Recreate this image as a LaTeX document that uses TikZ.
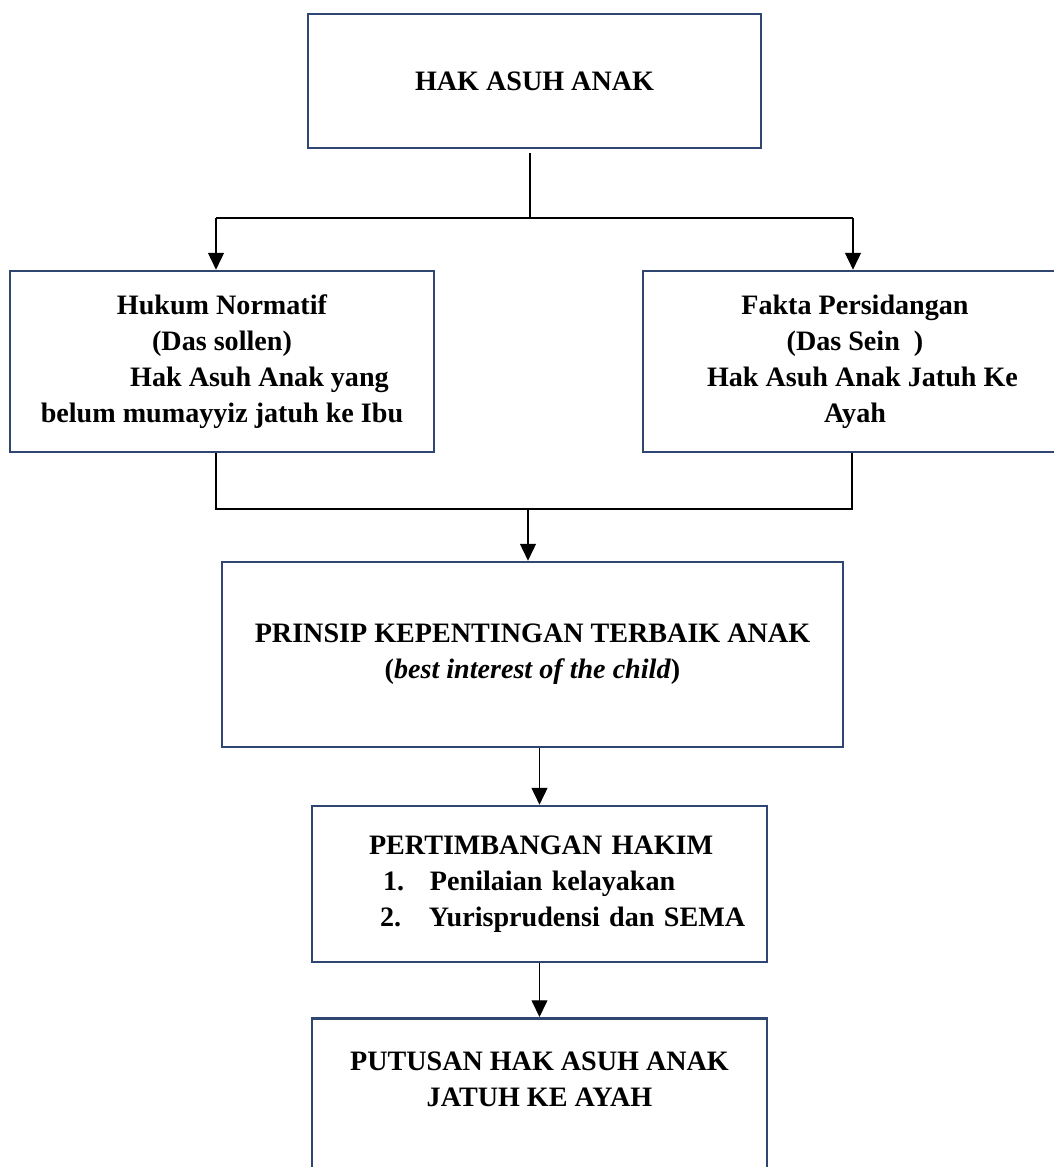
\documentclass[tikz,border=0pt]{standalone}
\usepackage{fontspec}
\setmainfont{Liberation Serif}
\usetikzlibrary{arrows.meta}
\definecolor{garisbiru}{RGB}{47,70,115}

\begin{document}
\begin{tikzpicture}[
  kotak/.style={draw=garisbiru, line width=1.5pt, align=center,
    font=\fontsize{16}{20.5}\selectfont\bfseries},
  garis/.style={line width=0.7pt},
  panah/.style={garis, -{Triangle[width=9pt,length=9.5pt]}}
]
  \useasboundingbox (0,0) rectangle (21.08,-23.34);
  \clip (0,0) rectangle (21.08,-23.34);

  \node[kotak, minimum width=9.06cm, minimum height=2.68cm] (hak) at (10.69,-1.62) {HAK ASUH ANAK};

  \node[kotak, minimum width=8.48cm, minimum height=3.62cm] (normatif) at (4.44,-7.23)
    {Hukum Normatif\\(Das sollen)\\\hspace*{1.5cm}Hak Asuh Anak yang\\belum mumayyiz jatuh ke Ibu};
  \node[kotak, minimum width=8.48cm, minimum height=3.62cm] (fakta) at (17.1,-7.23)
    {Fakta Persidangan\\(Das Sein\ \ )\\\hspace*{0.3cm}Hak Asuh Anak Jatuh Ke\\Ayah};

  \node[kotak, minimum width=12.42cm, minimum height=3.7cm] (prinsip) at (10.65,-13.09)
    {PRINSIP KEPENTINGAN TERBAIK ANAK\\(\textit{best interest of the child})};

  \node[kotak, align=left, text width=9.1cm, inner xsep=0pt, minimum height=3.12cm] (hakim) at (10.79,-17.68)
    {\hspace*{1.14cm}PERTIMBANGAN HAKIM\\
     \hspace*{1.42cm}\makebox[0.94cm][l]{1.}Penilaian kelayakan\\
     \hspace*{1.36cm}\makebox[0.98cm][l]{2.}Yurisprudensi dan SEMA};

  \node[kotak, anchor=north, inner ysep=0.67cm, minimum width=9.1cm] (putusan) at (10.79,-20.34)
    {\parbox[t][4cm][t]{8.5cm}{\centering PUTUSAN HAK ASUH ANAK\\JATUH KE AYAH}};

  \coordinate (a1) at (10.6,-4.36);
  \coordinate (a2) at (4.32,-4.36);
  \coordinate (a3) at (17.06,-4.36);
  \draw[garis] ([yshift=-2pt]hak.south -| a1) -- (a1);
  \draw[garis] (a2) -- (a3);
  \draw[panah] (a2) -- (a2 |- normatif.north);
  \draw[panah] (a3) -- (a3 |- fakta.north);

  \coordinate (b1) at (4.32,-10.18);
  \coordinate (b2) at (17.04,-10.18);
  \coordinate (b3) at (10.56,-10.18);
  \draw[garis] (normatif.south -| b1) -- (b1) -- (b2) -- (fakta.south -| b2);
  \draw[panah] (b3) -- (b3 |- prinsip.north);

  \draw[panah] (prinsip.south -| hakim.north) -- (hakim.north);
  \draw[panah] (hakim.south) -- (putusan.north);

\end{tikzpicture}
\end{document}
